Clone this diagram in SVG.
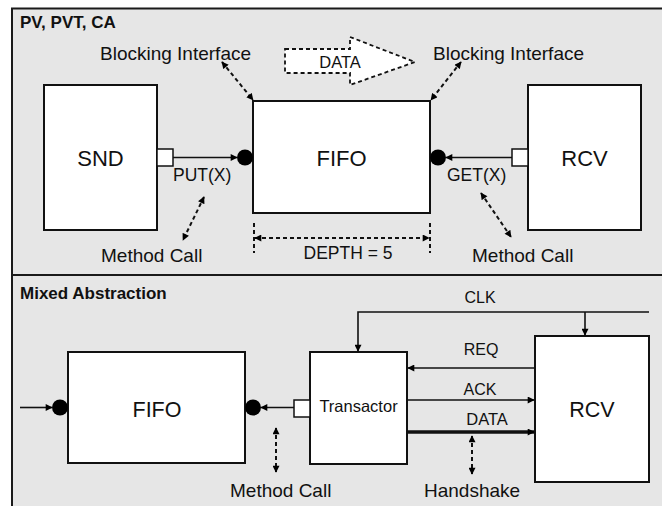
<svg xmlns="http://www.w3.org/2000/svg" width="662" height="506" viewBox="0 0 662 506">
<defs>
<marker id="ah" viewBox="0 0 10 10" refX="9" refY="5" markerWidth="8" markerHeight="7" markerUnits="userSpaceOnUse" orient="auto-start-reverse">
<path d="M0,0 L10,5 L0,10 z" fill="#000"/>
</marker>
</defs>
<style>
text{font-family:"Liberation Sans",Arial,sans-serif;fill:#111}
.t{font-size:19px}
.b{font-size:17px;font-weight:bold}
.big{font-size:22px}
.sig{font-size:16px}
.box{fill:#fff;stroke:#111;stroke-width:2}
.ln{stroke:#111;stroke-width:1.6;fill:none}
.dash{stroke:#111;stroke-width:2;fill:none;stroke-dasharray:4 3}
.dot{fill:#000}
.port{fill:#fff;stroke:#111;stroke-width:1.5}
</style>
<g id="panels">
<rect x="12" y="8.5" width="660" height="266.5" fill="#e6e6e6"/>
<rect x="12" y="275" width="660" height="240" fill="#e6e6e6"/>
<path d="M12,507 L12,8.5 L662,8.5" fill="none" stroke="#1a1a1a" stroke-width="2"/>
<path d="M12,275 L662,275" fill="none" stroke="#1a1a1a" stroke-width="2"/>
<text class="b" x="20" y="28">PV, PVT, CA</text>
<text class="b" x="20" y="299">Mixed Abstraction</text>
</g>
<g id="snd">
<rect class="box" x="44" y="85" width="113" height="145"/>
<text class="big" x="100.5" y="166" text-anchor="middle">SND</text>
<rect class="port" x="157" y="149" width="16" height="17"/>
</g>
<g id="fifo-top">
<rect class="box" x="253" y="101" width="177" height="112"/>
<text class="big" x="341.5" y="166" text-anchor="middle">FIFO</text>
<circle class="dot" cx="245" cy="157.5" r="8"/>
<circle class="dot" cx="438" cy="157.5" r="8"/>
</g>
<g id="rcv-top">
<rect class="box" x="528" y="85" width="113" height="145"/>
<text class="big" x="584.5" y="166" text-anchor="middle">RCV</text>
<rect class="port" x="512" y="149" width="16" height="17"/>
</g>
<g id="data-arrow">
<path d="M285,49 L350,49 L350,37 L415,62 L350,85 L350,73 L285,73 Z" fill="#fff" stroke="#111" stroke-width="1.8" stroke-dasharray="4 3"/>
<text class="sig" x="340" y="68" text-anchor="middle" style="font-size:16.5px">DATA</text>
</g>
<g id="fifo-bot">
<rect class="box" x="68" y="352" width="177" height="111"/>
<text class="big" x="157" y="417" text-anchor="middle" style="font-size:21.5px">FIFO</text>
<circle class="dot" cx="60" cy="407.5" r="8"/>
<circle class="dot" cx="253" cy="407.5" r="8"/>
</g>
<g id="transactor">
<rect class="box" x="310" y="352" width="97" height="112"/>
<text class="sig" x="358.5" y="412" text-anchor="middle" style="font-size:16.5px">Transactor</text>
<rect class="port" x="294" y="400" width="16" height="17"/>
</g>
<g id="rcv-bot">
<rect class="box" x="535" y="336" width="114" height="146"/>
<text class="big" x="592" y="417" text-anchor="middle" style="font-size:21.5px">RCV</text>
</g>
<g id="connectors">
<line class="ln" x1="173" y1="157.5" x2="237" y2="157.5" marker-end="url(#ah)"/>
<line class="ln" x1="512" y1="157.5" x2="446" y2="157.5" marker-end="url(#ah)"/>
<line class="dash" x1="222" y1="62" x2="253" y2="100" marker-start="url(#ah)" marker-end="url(#ah)"/>
<line class="dash" x1="461" y1="62" x2="431" y2="100" marker-start="url(#ah)" marker-end="url(#ah)"/>
<line class="dash" x1="204" y1="197" x2="183" y2="240" marker-start="url(#ah)" marker-end="url(#ah)"/>
<line class="dash" x1="481" y1="193" x2="511" y2="237" marker-start="url(#ah)" marker-end="url(#ah)"/>
<line class="dash" x1="254" y1="223" x2="254" y2="253"/>
<line class="dash" x1="430" y1="223" x2="430" y2="253"/>
<line class="dash" x1="255" y1="238" x2="429" y2="238" marker-start="url(#ah)" marker-end="url(#ah)"/>
<line class="ln" x1="20" y1="407.5" x2="52" y2="407.5" marker-end="url(#ah)"/>
<line class="ln" x1="294" y1="407.5" x2="261" y2="407.5" marker-end="url(#ah)"/>
<line class="dash" x1="276" y1="428" x2="276" y2="472" marker-start="url(#ah)" marker-end="url(#ah)"/>
<polyline class="ln" points="649,312 358,312 358,351" marker-end="url(#ah)"/>
<line class="ln" x1="585" y1="312" x2="585" y2="335" marker-end="url(#ah)"/>
<line class="ln" x1="535" y1="368" x2="408" y2="368" marker-end="url(#ah)"/>
<line class="ln" x1="407" y1="400" x2="534" y2="400" marker-end="url(#ah)"/>
<line x1="407" y1="432" x2="534" y2="432" stroke="#111" stroke-width="3.5" marker-end="url(#ah)"/>
<line class="dash" x1="472" y1="436" x2="472" y2="474" marker-start="url(#ah)" marker-end="url(#ah)"/>
</g>
<g id="labels">
<text class="t" x="100" y="60">Blocking Interface</text>
<text class="t" x="433" y="60">Blocking Interface</text>
<text class="t" x="173" y="181" style="font-size:17.5px">PUT(X)</text>
<text class="t" x="447" y="181" style="font-size:17.5px">GET(X)</text>
<text class="t" x="101" y="262">Method Call</text>
<text class="t" x="472" y="262">Method Call</text>
<text class="t" x="348" y="259" text-anchor="middle" style="font-size:17.5px">DEPTH = 5</text>
<text class="sig" x="480" y="303" text-anchor="middle">CLK</text>
<text class="sig" x="481" y="355" text-anchor="middle">REQ</text>
<text class="sig" x="480" y="395" text-anchor="middle">ACK</text>
<text class="sig" x="487" y="425" text-anchor="middle" style="font-size:16.5px">DATA</text>
<text class="t" x="230" y="497">Method Call</text>
<text class="t" x="424" y="497">Handshake</text>
</g>
</svg>
